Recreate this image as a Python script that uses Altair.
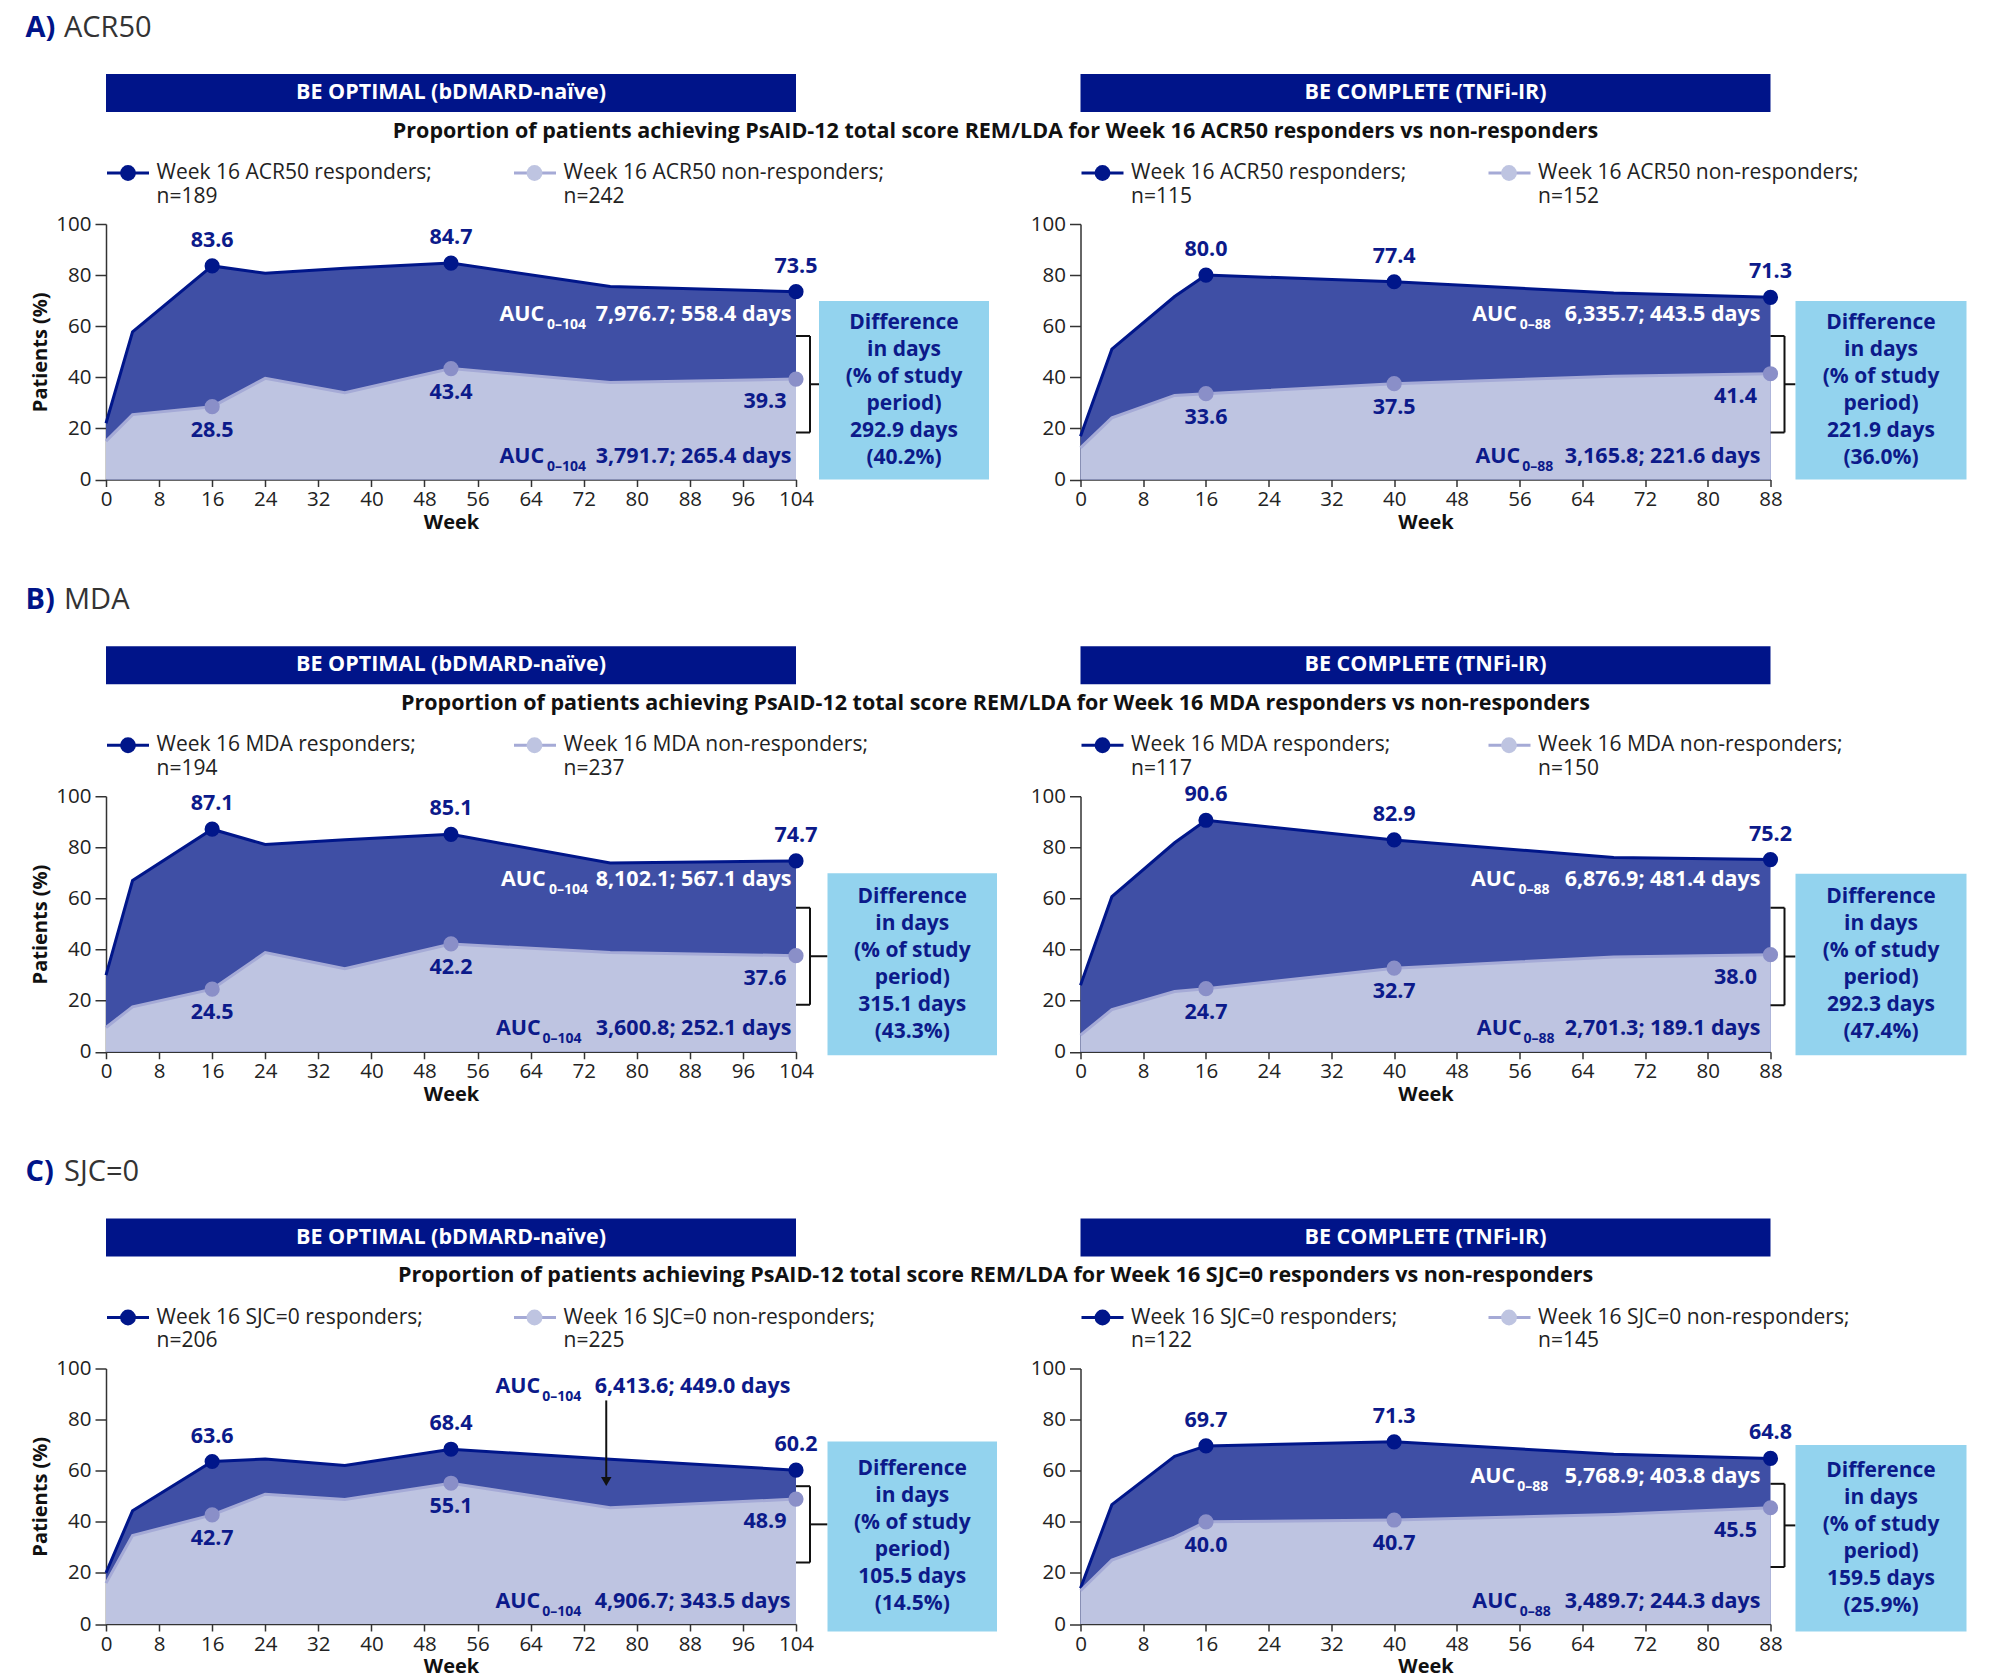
import altair as alt
import pandas as pd

# ---------------- data ----------------
weeks_opt = [0, 4, 16, 24, 36, 52, 76, 104]
weeks_comp = [0, 4, 12, 16, 40, 68, 88]
marker_weeks_opt = [16, 52, 104]
marker_weeks_comp = [16, 40, 88]

acr50_opt_resp = [22.0, 57.8, 83.6, 80.7, 82.7, 84.7, 75.5, 73.5]
acr50_opt_non = [15.0, 25.4, 28.5, 39.6, 34.0, 43.4, 38.0, 39.3]
acr50_comp_resp = [16.9, 51.0, 71.6, 80.0, 77.4, 73.0, 71.3]
acr50_comp_non = [12.4, 24.1, 32.9, 33.6, 37.5, 40.4, 41.4]

mda_opt_resp = [30.0, 67.0, 87.1, 81.1, 83.0, 85.1, 73.9, 74.7]
mda_opt_non = [9.5, 17.6, 24.5, 38.8, 32.5, 42.2, 38.8, 37.6]
mda_comp_resp = [26.0, 60.7, 81.8, 90.6, 82.9, 76.0, 75.2]
mda_comp_non = [6.5, 16.5, 23.6, 24.7, 32.7, 37.1, 38.0]

sjc_opt_resp = [20.0, 44.3, 63.6, 64.6, 62.0, 68.4, 64.5, 60.2]
sjc_opt_non = [16.0, 34.6, 42.7, 50.8, 48.7, 55.1, 45.5, 48.9]
sjc_comp_resp = [14.0, 46.7, 65.6, 69.7, 71.3, 66.4, 64.8]
sjc_comp_non = [13.0, 25.0, 34.0, 40.0, 40.7, 42.9, 45.5]

row_letters = ["A)", "B)", "C)"]
row_names = ["ACR50", "MDA", "SJC=0"]
study_names = ["BE OPTIMAL (bDMARD-naïve)", "BE COMPLETE (TNFi-IR)"]
n_resp = [[189, 115], [194, 117], [206, 122]]
n_non = [[242, 152], [237, 150], [225, 145]]
auc_resp = [["7,976.7; 558.4 days", "6,335.7; 443.5 days"],
            ["8,102.1; 567.1 days", "6,876.9; 481.4 days"],
            ["6,413.6; 449.0 days", "5,768.9; 403.8 days"]]
auc_non = [["3,791.7; 265.4 days", "3,165.8; 221.6 days"],
           ["3,600.8; 252.1 days", "2,701.3; 189.1 days"],
           ["4,906.7; 343.5 days", "3,489.7; 244.3 days"]]
diff_days = [["292.9 days", "221.9 days"], ["315.1 days", "292.3 days"], ["105.5 days", "159.5 days"]]
diff_pct = [["(40.2%)", "(36.0%)"], ["(43.3%)", "(47.4%)"], ["(14.5%)", "(25.9%)"]]
auc_sub = ["0\u2013104", "0\u201388"]

series = [[(acr50_opt_resp, acr50_opt_non), (acr50_comp_resp, acr50_comp_non)],
          [(mda_opt_resp, mda_opt_non), (mda_comp_resp, mda_comp_non)],
          [(sjc_opt_resp, sjc_opt_non), (sjc_comp_resp, sjc_comp_non)]]

# ---------------- style / layout ----------------
FONT = "Open Sans"
HEADER = "#001489"
NAVY = "#00168a"
RESP_FILL = "#3f4fa5"
NON_FILL = "#bec4e1"
NON_LINE = "#a5aad6"
NON_POINT = "#8a8fc8"
LBL = "#0c1a8a"
BOX = "#93d3ee"
DARK = "#222222"

PW, PH = 690, 255.5

# per panel annotation layout (pixels relative to plot top-left)
LAYOUT = {
    (0, 0): dict(up=(393.5, 441, 685.5, 91), lo=(393.5, 441, 685.5, 233), up_white=True,
                 box=(713, 77, 883, 255.5), br=(112, 208.5)),
    (0, 1): dict(up=(391.7, 439.3, 680, 91), lo=(395, 441.7, 680, 232.7), up_white=True,
                 box=(715, 77, 886, 255.5), br=(112, 208.5)),
    (1, 0): dict(up=(395, 443, 685.5, 83.5), lo=(390, 436.6, 685.5, 232.5), up_white=True,
                 box=(721.5, 77, 891, 259), br=(111.5, 208.5)),
    (1, 1): dict(up=(390.5, 438, 680, 83.5), lo=(396.3, 443, 680, 232.4), up_white=True,
                 box=(715, 77.5, 886, 259), br=(111.5, 209)),
    (2, 0): dict(up=(389.5, 436.2, 684.5, 18.5), lo=(389.5, 436.2, 684.5, 233.5), up_white=False,
                 box=(721.5, 73, 891, 263), br=(117.7, 194)),
    (2, 1): dict(up=(390, 436.8, 680, 108), lo=(391.8, 439.3, 680, 233), up_white=True,
                 box=(715, 76.5, 886, 263), br=(115.3, 198.5)),
}
arrow_week = 75.4
arrow_from = 87.5
arrow_to = 57.5
arrow_tip = 55.8

ONE = pd.DataFrame({"k": [0]})


def txt(x, y, s, size, color, weight="normal", align="left", line_height=None):
    kw = dict(text=s, align=align, baseline="middle", font=FONT, fontSize=size,
              fontWeight=weight, color=color)
    if line_height is not None:
        kw["lineHeight"] = line_height
    return alt.Chart(ONE).mark_text(**kw).encode(x=alt.value(x), y=alt.value(y))


def rect(x, y, x2, y2, color, opacity=1.0):
    return alt.Chart(ONE).mark_rect(color=color, opacity=opacity).encode(
        x=alt.value(x), x2=alt.value(x2), y=alt.value(y), y2=alt.value(y2))


def rule(x, y, x2, y2, color, width):
    return alt.Chart(ONE).mark_rule(color=color, strokeWidth=width).encode(
        x=alt.value(x), x2=alt.value(x2), y=alt.value(y), y2=alt.value(y2))


def make_panel(r, side):
    weeks = weeks_opt if side == 0 else weeks_comp
    mweeks = marker_weeks_opt if side == 0 else marker_weeks_comp
    wmax = weeks[-1]
    resp, non = series[r][side]
    lay = LAYOUT[(r, side)]

    xaxis = alt.Axis(values=list(range(0, wmax + 1, 8)), title="Week", grid=False,
                     labelFont=FONT, labelFontSize=20.5, labelColor=DARK, labelPadding=3,
                     labelOverlap=False, labelFlush=False,
                     titleFont=FONT, titleFontSize=20, titleFontWeight="bold", titleColor="#111",
                     titlePadding=2, tickSize=7, tickColor="#333", tickWidth=1.5,
                     domainColor="#333", domainWidth=1.5)
    yaxis = alt.Axis(values=[0, 20, 40, 60, 80, 100], grid=False,
                     title="Patients (%)" if side == 0 else None,
                     labelFont=FONT, labelFontSize=20.5, labelColor=DARK, labelPadding=4,
                     titleFont=FONT, titleFontSize=20, titleFontWeight="bold", titleColor="#111",
                     titlePadding=5, tickSize=11, tickColor="#333", tickWidth=1.5,
                     domainColor="#333", domainWidth=1.5)
    xs = alt.Scale(domain=[0, wmax], nice=False, zero=False)
    ys = alt.Scale(domain=[0, 100], nice=False)

    def X(f="week"):
        return alt.X(f"{f}:Q", scale=xs, axis=xaxis)

    def Y(f):
        return alt.Y(f"{f}:Q", scale=ys, axis=yaxis)

    df = pd.DataFrame({"week": weeks, "resp": resp, "non": non})
    mk = df[df["week"].isin(mweeks)].copy()
    mk["rl"] = mk["resp"].map(lambda v: f"{v:.1f}")
    mk["nl"] = mk["non"].map(lambda v: f"{v:.1f}")
    mid = mk[mk["week"] != wmax]
    last = mk[mk["week"] == wmax]

    LS = 21.5
    base = alt.Chart(df)
    layers = [
        base.mark_area(color=RESP_FILL, opacity=1).encode(x=X(), y=Y("resp")),
        base.mark_line(color=NAVY, strokeWidth=3).encode(x=X(), y=Y("resp")),
        base.mark_area(color=NON_FILL, opacity=1).encode(x=X(), y=Y("non")),
        base.mark_line(color=NON_LINE, strokeWidth=3).encode(x=X(), y=Y("non")),
        alt.Chart(mk).mark_circle(size=230, color=NAVY, opacity=1).encode(x=X(), y=Y("resp")),
        alt.Chart(mk).mark_circle(size=230, color=NON_POINT, opacity=1).encode(x=X(), y=Y("non")),
        alt.Chart(mk).mark_text(dy=-25, font=FONT, fontSize=LS, fontWeight="bold", color=LBL)
            .encode(x=X(), y=Y("resp"), text="rl:N"),
        alt.Chart(mid).mark_text(dy=24, font=FONT, fontSize=LS, fontWeight="bold", color=LBL)
            .encode(x=X(), y=Y("non"), text="nl:N"),
        alt.Chart(last).mark_text(dy=23, dx=-31 if side == 0 else -35, font=FONT, fontSize=LS,
                                  fontWeight="bold", color=LBL)
            .encode(x=X(), y=Y("non"), text="nl:N"),
    ]

    # arrow for row C left
    if r == 2 and side == 0:
        adf = pd.DataFrame({"week": [arrow_week], "y1": [arrow_from], "y2": [arrow_to], "tip": [arrow_tip]})
        layers.append(alt.Chart(adf).mark_rule(color="#111", strokeWidth=2)
                      .encode(x=X(), y=Y("y1"), y2=alt.Y2("y2:Q")))
        layers.append(alt.Chart(adf).mark_point(shape="triangle-down", filled=True, size=110,
                                                color="#111", opacity=1)
                      .encode(x=X(), y=Y("tip")))

    # AUC texts
    for key, val, white in (("up", auc_resp[r][side], lay["up_white"]), ("lo", auc_non[r][side], False)):
        ax, sx, ex, yy = lay[key]
        col = "white" if white else LBL
        layers.append(txt(ax, yy, "AUC", 21.5, col, "bold"))
        layers.append(txt(sx, yy + 10, auc_sub[side], 14, col, "bold"))
        layers.append(txt(ex, yy, val, 21.5, col, "bold", align="right"))

    # bracket
    bt, bb = lay["br"]
    bx = PW + 14
    layers += [
        rule(PW, bt, bx, bt, "#111", 2),
        rule(PW, bb, bx, bb, "#111", 2),
        rule(bx, bt, bx, bb, "#111", 2),
        rule(bx, (bt + bb) / 2, lay["box"][0], (bt + bb) / 2, "#111", 2),
    ]

    # difference box (one multi-line text block; y is the first line)
    x1, y1, x2, y2 = lay["box"]
    layers.append(rect(x1, y1, x2, y2, BOX))
    lines = ["Difference", "in days", "(% of study", "period)", diff_days[r][side], diff_pct[r][side]]
    first_line_y = (y1 + y2) / 2 - 2.5 * 27
    layers.append(txt((x1 + x2) / 2, first_line_y, lines, 21, LBL, "bold", align="center", line_height=27))

    # header bar
    layers.append(rect(0, -150, PW, -112, HEADER))
    layers.append(txt(PW / 2, -131, study_names[side], 21.5, "white", "bold", align="center"))

    # legend (two-line entries; y is the first line)
    ly1, ly2 = -51, -27.5
    LG = 21
    layers += [
        rule(1, ly1, 43, ly1, NAVY, 3),
        alt.Chart(ONE).mark_circle(size=250, color=NAVY, opacity=1).encode(x=alt.value(22), y=alt.value(ly1)),
        txt(50.5, ly1, [f"Week 16 {row_names[r]} responders;", f"n={n_resp[r][side]}"], LG, DARK,
            line_height=ly2 - ly1),
        rule(408, ly1, 450, ly1, NON_LINE, 3),
        alt.Chart(ONE).mark_circle(size=250, color=NON_FILL, opacity=1).encode(x=alt.value(428.5), y=alt.value(ly1)),
        txt(457.5, ly1, [f"Week 16 {row_names[r]} non-responders;", f"n={n_non[r][side]}"], LG, DARK,
            line_height=ly2 - ly1),
    ]

    if side == 0:
        layers += [
            txt(-80.5, -196.5, row_letters[r], 29, HEADER, "bold"),
            txt(-42, -196.5, row_names[r], 29, "#333"),
            txt(889.5, -92.5,
                f"Proportion of patients achieving PsAID-12 total score REM/LDA for Week 16 {row_names[r]} responders vs non-responders",
                21.5, "#111", "bold", align="center"),
        ]
        if r == 0:
            # invisible anchor fixing the canvas origin
            layers.append(rect(-105.5, -224, -104.5, -223, "white", opacity=0))
    if r == 2 and side == 1:
        # invisible anchor extending the canvas to the full page
        layers.append(rect(911, 306, 912, 307, "white", opacity=0))

    return alt.layer(*layers).properties(width=PW, height=PH)


panels = [make_panel(r, s) for r in range(3) for s in range(2)]

chart = alt.ConcatChart(
    concat=panels, columns=2,
    spacing={"row": 316.25, "column": 284.5},
    bounds="flush", padding=0, background="white",
).configure_view(stroke=None)

chart.save("out.html", embed_options={"renderer": "svg", "actions": False})
